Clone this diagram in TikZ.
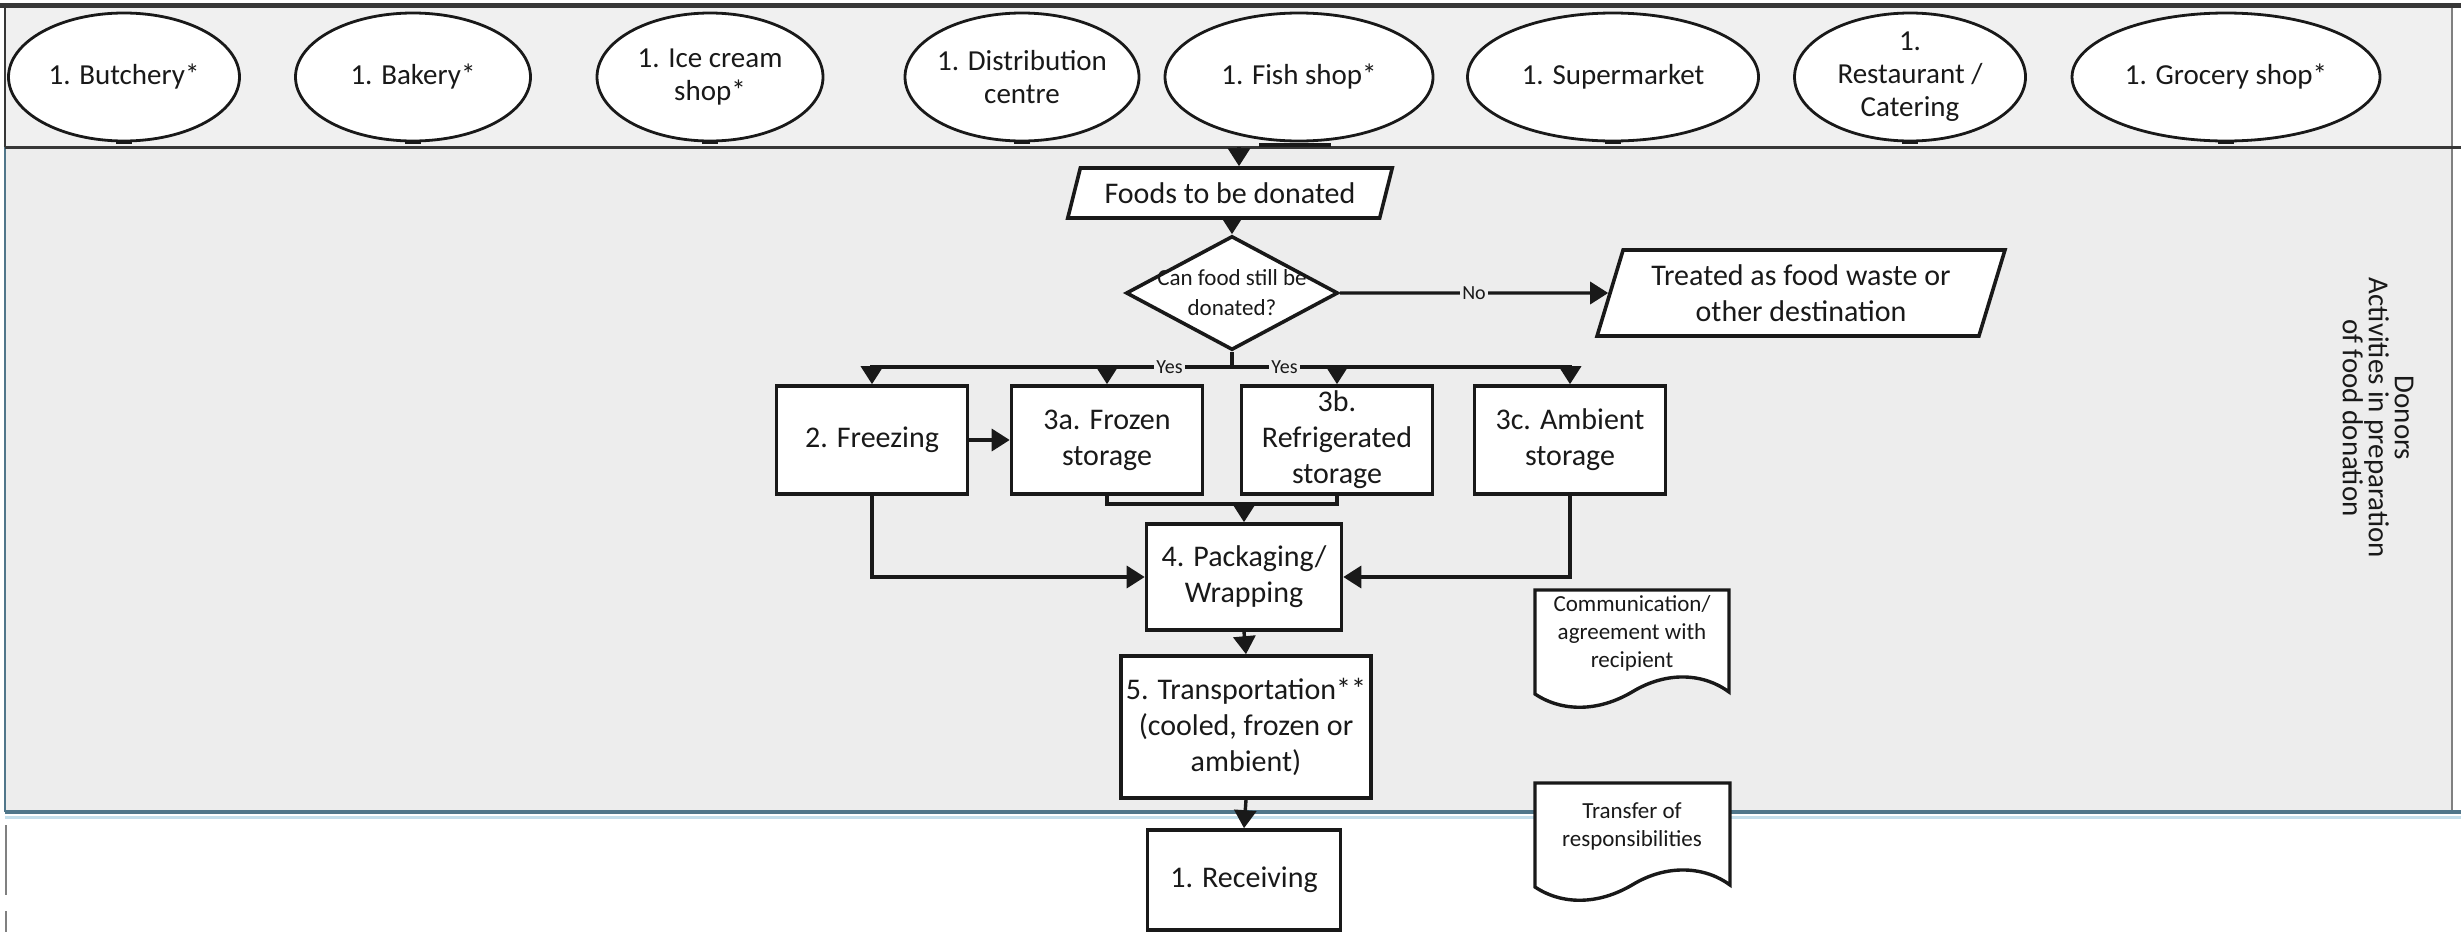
\documentclass[tikz,border=0pt]{standalone}
\usepackage{fontspec}
\setmainfont{Carlito}
\usetikzlibrary{shapes.geometric,arrows.meta}
\definecolor{lanegray}{RGB}{237,237,237}
\definecolor{bandgray}{RGB}{240,240,240}
\definecolor{laneline}{RGB}{80,118,138}
\definecolor{laneglow}{RGB}{195,222,235}
\definecolor{ink}{RGB}{25,25,25}
\definecolor{border}{RGB}{55,55,55}
\begin{document}
\begin{tikzpicture}[x=0.5pt,y=-0.5pt,
  donor/.style={ellipse, draw=ink, line width=1.4pt, fill=white, minimum height=64pt, inner sep=0pt},
  etext/.style={align=center, text=ink, font=\fontsize{14.5}{16.5}\selectfont},
  stepbox/.style={rectangle, draw=ink, line width=1.8pt, fill=white, minimum width=95.5pt, minimum height=54pt, inner sep=2pt, align=center, text=ink, font=\fontsize{15}{18}\selectfont},
  para/.style={trapezium, trapezium stretches=true, draw=ink, line width=1.8pt, fill=white, inner sep=0pt, align=center, text=ink, font=\fontsize{15}{18}\selectfont},
  decision/.style={diamond, draw=ink, line width=1.8pt, fill=white, minimum width=106pt, minimum height=57pt, inner sep=0pt},
  dtext/.style={align=center, text=ink, font=\fontsize{11.5}{15}\selectfont},
  arr/.style={line width=1.7pt, draw=ink, -{Triangle[length=9pt,width=11pt]}},
  conn/.style={line width=1.7pt, draw=ink},
  lbl/.style={fill=lanegray, inner sep=1pt, text=ink, font=\fontsize{10}{12}\selectfont},
  docshape/.style={draw=ink, line width=1.7pt, fill=white},
  doctext/.style={align=center, text=ink, font=\fontsize{11.5}{14}\selectfont},
  tickmark/.style={line width=2pt, draw=ink},
]
\useasboundingbox (0,0) rectangle (2461,932);
% lanes
\fill[bandgray] (5,5) rectangle (2452,147);
\fill[lanegray] (5,147) rectangle (2452,812);
\draw[line width=1pt, laneline] (5,147) -- (5,812);
\draw[line width=1pt, border] (5,5) -- (5,147);
\draw[line width=0.8pt, gray] (2452,5) -- (2452,812);
\draw[line width=2.5pt, border] (0,5) -- (2461,5);
\draw[line width=1.5pt, border] (5,147) -- (2461,147);
\draw[line width=1.5pt, laneglow] (5,817) -- (2461,817);
\draw[line width=2.2pt, laneline] (5,812) -- (2461,812);
\draw[line width=1pt, gray, dash pattern=on 35pt off 8pt] (6,825) -- (6,932);

% donors
\node[donor, minimum width=115.5pt] (butch) at (124,77) {};
\node[etext] (butcht) at (butch) {1. Butchery*};
\node[donor, minimum width=117.5pt] (bake) at (413,77) {};
\node[etext] (baket) at (bake) {1. Bakery*};
\node[donor, minimum width=113pt] (ice) at (710,77) {};
\node[etext] (icet) at (ice) {1. Ice cream\\shop*};
\node[donor, minimum width=117pt] (dist) at (1022,77) {};
\node[etext] (distt) at (dist) {1. Distribution\\centre};
\node[donor, minimum width=134pt] (fish) at (1299,77) {};
\node[etext] (fisht) at (fish) {1. Fish shop*};
\node[donor, minimum width=145.5pt] (super) at (1613,77) {};
\node[etext] (supert) at (super) {1. Supermarket};
\node[donor, minimum width=115.5pt] (rest) at (1910,77) {};
\node[etext] (restt) at (rest) {1.\\Restaurant /\\Catering};
\node[donor, minimum width=154pt] (groc) at (2226,77) {};
\node[etext] (groct) at (groc) {1. Grocery shop*};
\foreach \c in {butch,bake,ice,dist,super,rest,groc}{
  \draw[tickmark] ([xshift=-4pt]\c.south) -- ([xshift=4pt]\c.south);
}
\draw[tickmark] (1259,145) -- (1331,145);

% flow
\coordinate (fishpt) at (1239,147);
\node[para, trapezium left angle=63.4, trapezium right angle=116.6, minimum width=162.5pt, minimum height=25pt] (foods) at (1230,193) {Foods to be donated};
\node[decision] (dec) at (1232,293) {};
\node[dtext] (dect) at (dec) {Can food still be\\donated?};
\node[para, trapezium left angle=69, trapezium right angle=111, minimum width=204pt, minimum height=43pt] (waste) at (1801,293) {Treated as food waste or\\other destination};

\node[stepbox] (freez) at (872,440) {2. Freezing};
\node[stepbox] (frozen) at (1107,440) {3a. Frozen\\storage};
\node[stepbox] (refrig) at (1337,440) {};
\node[stepbox, draw=none, fill=none] (refrigt) at (refrig) {3b.\\Refrigerated\\storage};
\node[stepbox] (amb) at (1570,440) {3c. Ambient\\storage};

\node[stepbox, minimum width=97.5pt, minimum height=53pt] (pack) at (1244,577) {4. Packaging/\\Wrapping};
\node[stepbox, minimum width=125pt, minimum height=71pt] (trans) at (1246,727) {5. Transportation**\\(cooled, frozen or\\ambient)};
\node[stepbox, minimum width=96.5pt, minimum height=50pt] (recv) at (1244,880) {1. Receiving};

\coordinate (busc) at (1232,367);
\coordinate (brk) at (1244,504);

\draw[arr] (fishpt) -- (fishpt |- foods.north);
\draw[arr] (foods.south -| dec.north) -- (dec.north);
\draw[arr] (dec.east) -- node[lbl]{No} (waste.west);
\draw[conn] (dec.south) -- (busc);
\draw[arr] (busc) -- node[lbl]{Yes} (busc -| frozen.north) -- (frozen.north);
\draw[arr] (busc -| frozen.north) -- (busc -| freez.north) -- (freez.north);
\draw[arr] (busc) -- node[lbl]{Yes} (busc -| refrig.north) -- (refrig.north);
\draw[arr] (busc -| refrig.north) -- (busc -| amb.north) -- (amb.north);
\draw[arr] (freez.east) -- (frozen.west);
\draw[conn] (frozen.south) -- (frozen.south |- brk) -- (refrig.south |- brk) -- (refrig.south);
\draw[arr] (brk) -- (pack.north);
\draw[arr] (freez.south) |- (pack.west);
\draw[arr] (amb.south) |- (pack.east);
\draw[arr] (pack.south) -- (trans.north);
\draw[arr] (trans.south) -- (recv.north);

% documents
\draw[docshape] (1535,590) -- (1729,590) -- (1729,692) .. controls (1705,674) and (1668,670) .. (1632,692) .. controls (1598,712) and (1562,712) .. (1535,694) -- cycle;
\node[doctext] (comm) at (1632,633) {Communication/\\agreement with\\recipient};
\draw[docshape] (1535,783) -- (1730,783) -- (1730,885) .. controls (1706,867) and (1668,863) .. (1632,885) .. controls (1598,905) and (1562,905) .. (1535,887) -- cycle;
\node[doctext] (transfer) at (1632,826) {Transfer of\\responsibilities};

% lane label
\node[rotate=-90, align=center, text=ink, font=\fontsize{14.5}{13}\selectfont] (lanelabel) at (2378,418) {Donors\\Activities in preparation\\of food donation};
\end{tikzpicture}
\end{document}
